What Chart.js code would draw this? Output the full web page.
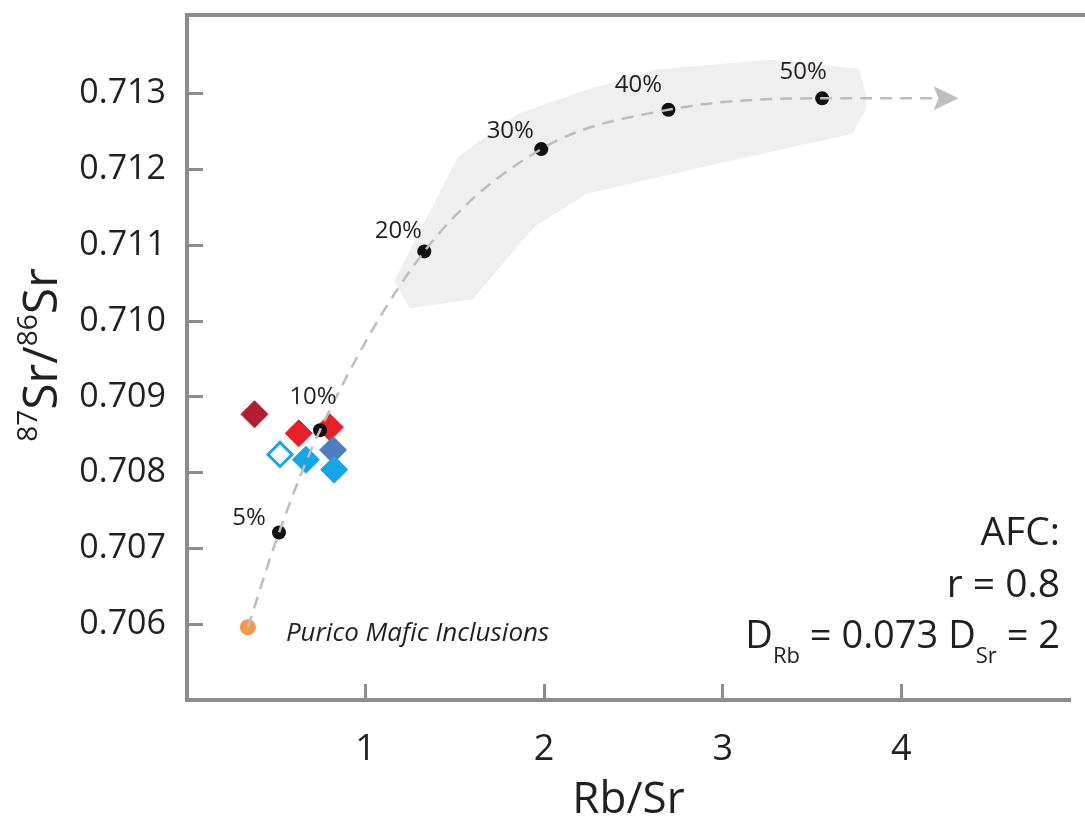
<!DOCTYPE html>
<html>
<head>
<meta charset="utf-8">
<title>Rb/Sr vs 87Sr/86Sr – AFC model</title>
<script src="https://cdn.jsdelivr.net/npm/chart.js@4.4.1/dist/chart.umd.min.js"></script>
<style>
  html, body { margin: 0; padding: 0; background: #ffffff; }
  #wrap { width: 1085px; height: 825px; position: relative; }
</style>
</head>
<body>
<div id="wrap"><canvas id="chart" width="1085" height="825"></canvas></div>
<script>
// ---- data -------------------------------------------------------------
// Parental magma (Purico mafic inclusions)
const puricoRbSr = [0.341];
const puricoSr   = [0.70596];

// AFC model steps (r = 0.8, D_Rb = 0.073, D_Sr = 2)
const stepLabels = ['5%', '10%', '20%', '30%', '40%', '50%'];
const stepRbSr   = [0.515, 0.745, 1.329, 1.984, 2.696, 3.557];
const stepSr     = [0.70721, 0.70856, 0.71092, 0.71227, 0.71279, 0.71294];

// continuation of the trend beyond 50 %
const trendEndRbSr = 4.321;
const trendEndSr   = 0.71294;

// envelope of the AFC paths
const envelopeRbSr = [1.248, 1.160, 1.518, 1.854, 2.261, 2.625, 3.269, 3.764, 3.803, 3.803, 3.725, 3.087, 2.239, 1.947, 1.600];
const envelopeSr   = [0.71017, 0.71053, 0.71217, 0.71274, 0.71307, 0.71332, 0.71345, 0.71333, 0.71299, 0.71280, 0.71247, 0.71214, 0.71168, 0.71125, 0.71029];

// samples
const darkRedRbSr  = [0.378];
const darkRedSr    = [0.70877];
const redRbSr      = [0.626, 0.800];
const redSr        = [0.70852, 0.70860];
const steelRbSr    = [0.818];
const steelSr      = [0.70830];
const cyanRbSr     = [0.666, 0.824];
const cyanSr       = [0.70817, 0.70804];
const openCyanRbSr = [0.521];
const openCyanSr   = [0.70824];

// axes
const xTickValues = [1, 2, 3, 4];
const yTickValues = [0.706, 0.707, 0.708, 0.709, 0.710, 0.711, 0.712, 0.713];
const xRange = [0, 4.945];
const yRange = [0.705, 0.71404];

// ---- helpers ----------------------------------------------------------
const pts = (xs, ys) => xs.map((v, i) => ({ x: v, y: ys[i] }));
const FONT = "'Open Sans', 'Noto Sans', sans-serif";
const INK = '#231f20';
const FRAME = '#8c8c8c';

// label placement relative to each model step marker (px)
const stepLabelShift = [[-30, -14], [-7, -33], [-26, -20], [-31, -18], [-30, -25], [-19, -26]];

const curve = pts(
  [puricoRbSr[0], ...stepRbSr, trendEndRbSr],
  [puricoSr[0], ...stepSr, trendEndSr]
);

const annotations = {
  id: 'annotations',
  beforeDatasetsDraw(chart) {
    const { ctx, scales: { x, y } } = chart;
    ctx.save();
    ctx.beginPath();
    envelopeRbSr.forEach((v, i) => {
      const px = x.getPixelForValue(v);
      const py = y.getPixelForValue(envelopeSr[i]);
      if (i === 0) ctx.moveTo(px, py); else ctx.lineTo(px, py);
    });
    ctx.closePath();
    ctx.fillStyle = '#efefef';
    ctx.fill();
    ctx.restore();
  },
  afterDatasetsDraw(chart) {
    const { ctx } = chart;
    // arrow head at the end of the trend line
    const lineMeta = chart.getDatasetMeta(chart.data.datasets.findIndex(d => d.id === 'trend'));
    const tip = lineMeta.data[lineMeta.data.length - 1];
    ctx.save();
    ctx.fillStyle = '#bfbfbf';
    ctx.beginPath();
    ctx.moveTo(tip.x, tip.y);
    ctx.lineTo(tip.x - 25, tip.y - 12);
    ctx.lineTo(tip.x - 20, tip.y);
    ctx.lineTo(tip.x - 25, tip.y + 12);
    ctx.closePath();
    ctx.fill();
    ctx.restore();

    // percentage labels on model steps
    const stepMeta = chart.getDatasetMeta(chart.data.datasets.findIndex(d => d.id === 'steps'));
    ctx.save();
    ctx.font = `24px ${FONT}`;
    ctx.fillStyle = INK;
    ctx.textAlign = 'center';
    ctx.textBaseline = 'middle';
    stepMeta.data.forEach((pt, i) => {
      ctx.fillText(stepLabels[i], pt.x + stepLabelShift[i][0], pt.y + stepLabelShift[i][1]);
    });

    // parental magma label
    const pMeta = chart.getDatasetMeta(chart.data.datasets.findIndex(d => d.id === 'purico'));
    const p = pMeta.data[0];
    ctx.font = `italic 26px ${FONT}`;
    ctx.textAlign = 'left';
    ctx.fillText('Purico Mafic Inclusions', p.x + 38, p.y + 6);
    ctx.restore();
  },
  afterDraw(chart) {
    const { ctx, chartArea } = chart;
    ctx.save();
    // top frame line
    ctx.strokeStyle = FRAME;
    ctx.lineWidth = 4;
    ctx.beginPath();
    ctx.moveTo(chartArea.left - 2, chartArea.top);
    ctx.lineTo(chart.width, chartArea.top);
    ctx.stroke();

    // y axis title: 87Sr/86Sr
    ctx.fillStyle = INK;
    ctx.translate(57, 355);
    ctx.rotate(-Math.PI / 2);
    const big = `48px ${FONT}`, sup = `28px ${FONT}`;
    const parts = [['87', sup, -20], ['Sr', big, 0], ['/', big, 0], ['86', sup, -20], ['Sr', big, 0]];
    let total = 0;
    parts.forEach(([t, f]) => { ctx.font = f; total += ctx.measureText(t).width; });
    let cx = -total / 2;
    ctx.textBaseline = 'alphabetic';
    ctx.textAlign = 'left';
    parts.forEach(([t, f, dy]) => {
      ctx.font = f;
      ctx.fillText(t, cx, dy);
      cx += ctx.measureText(t).width;
    });
    ctx.restore();

    // model parameters
    ctx.save();
    ctx.fillStyle = INK;
    ctx.textBaseline = 'alphabetic';
    ctx.textAlign = 'right';
    const rightX = 1060;
    ctx.font = `39px ${FONT}`;
    ctx.fillText('AFC:', rightX, 545);
    ctx.fillText('r = 0.8', rightX, 597);
    const main = `38px ${FONT}`, sub = `22px ${FONT}`;
    const row = [['D', main, 0], ['Rb', sub, 15], [' = 0.073 ', main, 0], ['D', main, 0], ['Sr', sub, 15], [' = 2', main, 0]];
    let w = 0;
    row.forEach(([t, f]) => { ctx.font = f; w += ctx.measureText(t).width; });
    let rx = rightX - w;
    ctx.textAlign = 'left';
    row.forEach(([t, f, dy]) => {
      ctx.font = f;
      ctx.fillText(t, rx, 648 + dy);
      rx += ctx.measureText(t).width;
    });
    ctx.restore();
  }
};

const diamond = (id, data, color, order, extra = {}) => Object.assign({
  id, data, order,
  pointStyle: 'rectRot',
  pointRadius: 13.5,
  pointBackgroundColor: color,
  pointBorderColor: color,
  pointBorderWidth: 1,
  showLine: false
}, extra);

// scale paddings are fixed by the layout, not by label overflow
const noScalePadding = s => { s.paddingTop = 0; s.paddingBottom = 0; s.paddingLeft = 0; s.paddingRight = 0; };

new Chart(document.getElementById('chart'), {
  type: 'scatter',
  data: {
    datasets: [
      {
        id: 'trend',
        data: curve,
        order: 1,
        showLine: true,
        borderColor: '#bdbdbd',
        borderWidth: 2.5,
        borderDash: [12, 8],
        cubicInterpolationMode: 'monotone',
        pointRadius: 0,
        fill: false
      },
      {
        id: 'steps',
        data: pts(stepRbSr, stepSr),
        order: 2,
        pointRadius: 7,
        pointBackgroundColor: '#111111',
        pointBorderColor: '#111111',
        pointBorderWidth: 0
      },
      {
        id: 'purico',
        data: pts(puricoRbSr, puricoSr),
        order: 3,
        pointRadius: 8,
        pointBackgroundColor: '#f49a4c',
        pointBorderColor: '#f49a4c',
        pointBorderWidth: 0
      },
      diamond('openCyan', pts(openCyanRbSr, openCyanSr), '#1aa3e6', 4,
        { pointRadius: 12, pointBackgroundColor: '#ffffff', pointBorderWidth: 3 }),
      diamond('cyan', pts(cyanRbSr, cyanSr), '#15a4e7', 5),
      diamond('steel', pts(steelRbSr, steelSr), '#4e7ec0', 6),
      diamond('red', pts(redRbSr, redSr), '#e8202a', 7),
      diamond('darkRed', pts(darkRedRbSr, darkRedSr), '#b31e2e', 8)
    ]
  },
  options: {
    responsive: false,
    animation: false,
    events: [],
    layout: { padding: { top: 13, right: 0, left: 0, bottom: 0 } },
    plugins: { legend: { display: false }, tooltip: { enabled: false }, title: { display: false } },
    scales: {
      x: {
        type: 'linear',
        min: xRange[0],
        max: xRange[1],
        afterBuildTicks: s => { s.ticks = xTickValues.map(v => ({ value: v })); },
        afterFit: s => { s.height = 125; noScalePadding(s); },
        grid: { drawOnChartArea: false, drawTicks: true, tickLength: -16, tickColor: FRAME, tickWidth: 3 },
        border: { display: true, color: FRAME, width: 4 },
        ticks: {
          color: INK,
          padding: 48,
          font: { family: FONT, size: 36, lineHeight: 1 },
          callback: v => String(v)
        },
        title: {
          display: true,
          text: 'Rb/Sr',
          color: INK,
          font: { family: FONT, size: 44, lineHeight: 1 },
          padding: { top: 0, bottom: 3 }
        }
      },
      y: {
        type: 'linear',
        min: yRange[0],
        max: yRange[1],
        afterBuildTicks: s => { s.ticks = yTickValues.map(v => ({ value: v })); },
        afterFit: s => { s.width = 187; noScalePadding(s); },
        grid: { drawOnChartArea: false, drawTicks: true, tickLength: -16, tickColor: FRAME, tickWidth: 3 },
        border: { display: true, color: FRAME, width: 4 },
        ticks: {
          color: INK,
          padding: 37,
          font: { family: FONT, size: 34, lineHeight: 1 },
          callback: v => Number(v).toFixed(3)
        }
      }
    }
  },
  plugins: [annotations]
});
</script>
</body>
</html>
